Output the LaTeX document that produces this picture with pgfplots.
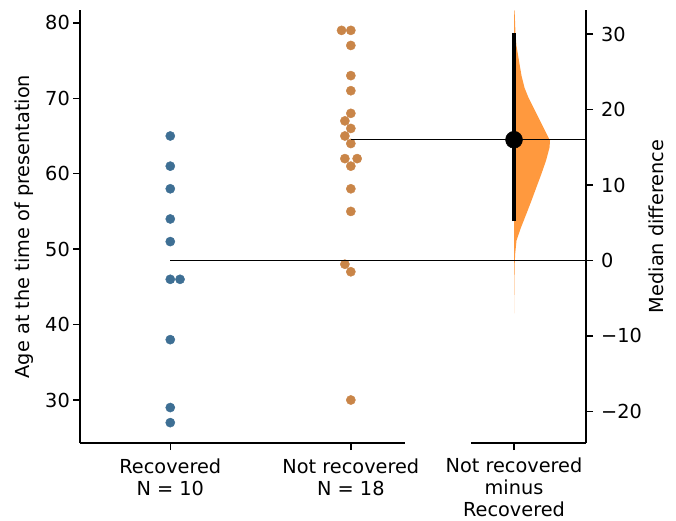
\documentclass[border=0pt]{standalone}
\usepackage{fontspec}
\setmainfont{DejaVu Sans}
\usepackage{pgfplots}
\pgfplotsset{compat=1.18}
\definecolor{bluedot}{RGB}{62,111,148}
\definecolor{orangedot}{RGB}{201,133,72}
\definecolor{violin}{RGB}{255,153,62}
\newcommand{\fs}{\fontsize{19.3}{22.5}\selectfont}
\newcommand{\fsb}{\fontsize{19.3}{22}\selectfont}
\pgfplotsset{
  est/.style={
    scale only axis,
    height=433pt,
    axis x line*=bottom,
    axis line style={-, line width=1.5pt, black},
    tick align=outside,
    major tick length=7pt,
    tick style={line width=1.5pt, black},
    /pgf/number format/assume math mode=true,
    every tick label/.append style={font=\fs, inner sep=0pt},
    label style={font=\fs, inner sep=0pt},
    xticklabel style={align=center, yshift=-8.5pt},
  }
}
\begin{document}
\begin{tikzpicture}[x=1pt,y=1pt]
\useasboundingbox (0,0) rectangle (676,520);
\begin{axis}[est,
  at={(80pt,77pt)}, anchor=south west,
  width=325pt,
  xmin=-0.5, xmax=1.3, ymin=24.3, ymax=81.7,
  axis y line*=left,
  xtick={0,1},
  xticklabels={{Recovered\\N = 10},{Not recovered\\N = 18}},
  ytick={30,40,50,60,70,80},
  yticklabel style={xshift=-3pt},
  ylabel={Age at the time of presentation},
  ylabel style={at={(axis description cs:0,0.5)}, anchor=center, yshift=55.5pt},
]
\addplot[only marks, mark=*, mark size=4.6pt, color=bluedot]
 coordinates {(0,65) (0,61) (0,58) (0,54) (0,51) (0,46) (0.054,46) (0,38) (0,29) (0,27)};
\addplot[only marks, mark=*, mark size=4.6pt, color=orangedot]
 coordinates {(0.9485,79) (1,79) (1,77) (1,73) (1,71) (1,68) (0.967,67) (1,66)
  (0.967,65) (1,64) (0.967,62) (1.035,62) (1,61) (1,58) (1,55) (0.967,48) (1,47) (1,30)};
\end{axis}
\begin{axis}[est,
  at={(471pt,77pt)}, anchor=south west,
  width=115pt,
  xmin=-43, xmax=72, ymin=-24.2, ymax=33.2,
  axis y line*=right,
  clip=false,
  xtick={0},
  xticklabels={{Not recovered\\minus\\Recovered}},
  xticklabel style={font=\fsb, yshift=1pt},
  ytick={-20,-10,0,10,20,30},
  yticklabels={−20,−10,0,10,20,30},
  yticklabel style={xshift=8pt},
  ylabel={Median difference},
  ylabel style={at={(axis description cs:1,0.5)}, anchor=center, yshift=-70.5pt},
]
\addplot[fill=violin, draw=none] coordinates {
 (0,33.2) (0.6,33.07) (1.5,30.03) (2.5,28.44) (5,26.46) (7.5,24.48) (10.5,22.89)
 (14.5,21.57) (19.5,20.25) (26,18.53) (32.5,16.81) (36,15.88) (35.5,14.95)
 (32,13.23) (27.5,11.51) (22.3,9.66) (17.5,7.94) (12.5,6.22) (7,4.37) (2.5,2.65)
 (1.2,0.93) (0.6,-0.65) (0.3,-3.96) (0,-7.0)} -- cycle;
\addplot[black, line width=1.4pt] coordinates {(-344,0) (72,0)};
\addplot[black, line width=1.4pt] coordinates {(-163,16) (72,16)};
\addplot[black, line width=4.5pt] coordinates {(0,5.2) (0,30.1)};
\addplot[only marks, mark=*, mark size=8.5pt, black] coordinates {(0,16)};
\end{axis}
\end{tikzpicture}
\end{document}
